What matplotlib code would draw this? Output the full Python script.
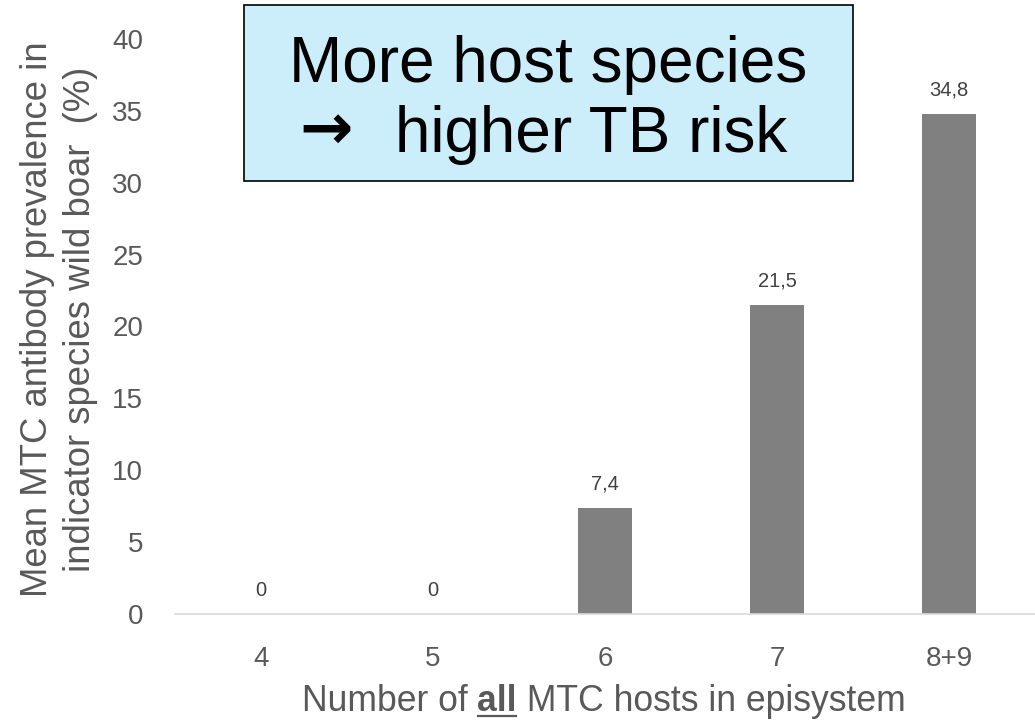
import matplotlib
matplotlib.use("Agg")
import matplotlib.pyplot as plt

categories = ["4", "5", "6", "7", "8+9"]
values = [0, 0, 7.4, 21.5, 34.8]
value_labels = ["0", "0", "7,4", "21,5", "34,8"]
yticks = [0, 5, 10, 15, 20, 25, 30, 35, 40]

font = "Liberation Sans"
grey_text = "#595959"
W, H = 1035, 725

fig = plt.figure(figsize=(W / 100, H / 100), dpi=100)
ax = fig.add_axes([175 / W, (H - 614) / H, (W - 175) / W, (614 - 39) / H])

x = list(range(len(categories)))
ax.bar(x, values, width=0.315, color="#808080", zorder=2)
ax.set_xlim(-0.5, 4.5)
ax.set_ylim(0, 40)
ax.set_yticks(yticks)
ax.set_yticklabels([str(t) for t in yticks], fontfamily=font, fontsize=20, color=grey_text)
ax.set_xticks(x)
ax.set_xticklabels(categories, fontfamily=font, fontsize=20, color=grey_text)
ax.tick_params(axis="both", length=0)
ax.tick_params(axis="y", pad=23)
ax.tick_params(axis="x", pad=23)
for s in ["top", "right", "left"]:
    ax.spines[s].set_visible(False)
ax.spines["bottom"].set_color("#D9D9D9")
ax.spines["bottom"].set_linewidth(1.2)

for xi, v, lab in zip(x, values, value_labels):
    ax.annotate(lab, (xi, v), xytext=(0, 17), textcoords="offset points",
                ha="center", va="center", fontfamily=font, fontsize=14.5, color="#404040")

# y-axis title on two lines
fig.text(38 / W, 1 - 319 / H, "Mean MTC antibody prevalence in", rotation=90,
         ha="center", va="center", fontfamily=font, fontsize=26.3, color=grey_text)
fig.text(81 / W, 1 - 319 / H, "indicator species wild boar  (%)", rotation=90,
         ha="center", va="center", fontfamily=font, fontsize=26.3, color=grey_text)

# x-axis title with a bold underlined word
fig.canvas.draw()
renderer = fig.canvas.get_renderer()
parts = [("Number of ", "normal"), ("all", "bold"), (" MTC hosts in episystem", "normal")]
ytitle = 1 - 711 / H
pieces = []
for txt, wt in parts:
    t = fig.text(0, ytitle, txt, ha="left", va="baseline", fontfamily=font,
                 fontsize=25.6, fontweight=wt, color=grey_text)
    pieces.append(t)
widths = [p.get_window_extent(renderer).width for p in pieces]
total = sum(widths)
x0 = 603.5 - total / 2
cur = x0
for p, w in zip(pieces, widths):
    p.set_x(cur / W)
    cur += w
ul_left = x0 + widths[0] + 1
ul_right = x0 + widths[0] + widths[1] - 1
fig.add_artist(plt.Line2D([ul_left / W, ul_right / W],
                          [ytitle - 5 / H, ytitle - 5 / H],
                          color=grey_text, linewidth=1.6))

# call-out box
fig.patches.append(plt.Rectangle((244 / W, 1 - 181 / H), (853 - 244) / W, (181 - 5) / H,
                                 transform=fig.transFigure, facecolor="#CCEEFA",
                                 edgecolor="black", linewidth=1.2, zorder=5))
fig.text(548 / W, 1 - 82 / H, "More host species", ha="center", va="baseline",
         fontfamily=font, fontsize=46, color="black", zorder=6)
fig.text(326 / W, 1 - 131 / H, "\u2192", ha="center", va="center",
         fontfamily="DejaVu Sans", fontsize=46, fontweight="bold", color="black", zorder=6)
fig.text(787 / W, 1 - 152 / H, "higher TB risk", ha="right", va="baseline",
         fontfamily=font, fontsize=46, color="black", zorder=6)

fig.savefig("out.png", dpi=100)
